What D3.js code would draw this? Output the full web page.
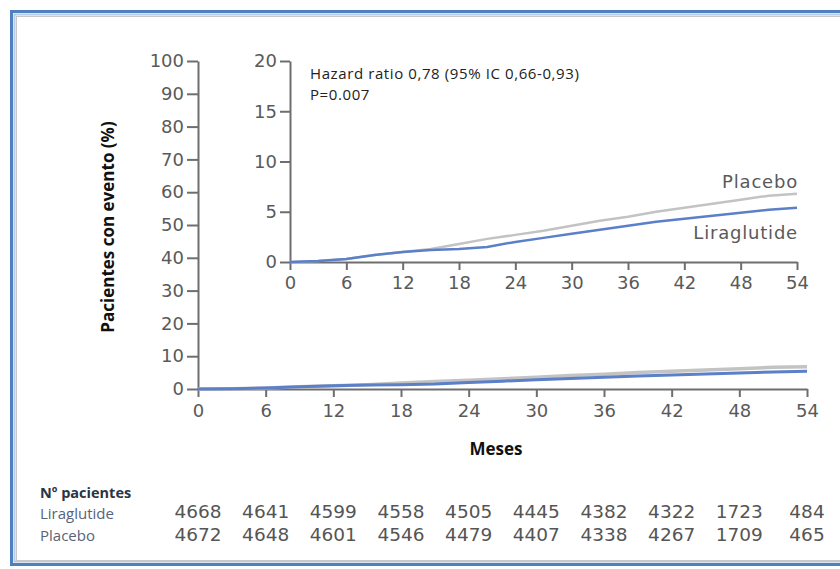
<!DOCTYPE html>
<html lang="es">
<head>
<meta charset="utf-8"/>
<script src="https://d3js.org/d3.v7.min.js"></script>
<style>
  body { margin: 0; background: #fff; }
  svg { display: block; }
</style>
</head>
<body>
<svg id="chart" width="840" height="569"></svg>
<script>
// meses y curvas acumuladas (%)
const months      = [0, 3, 6, 9, 12, 15, 18, 21, 24, 27, 30, 33, 36, 39, 42, 45, 48, 51, 54];
const liraglutide = [0, 0.1, 0.3, 0.7, 1.0, 1.2, 1.3, 1.5, 2.0, 2.4, 2.8, 3.2, 3.6, 4.0, 4.3, 4.6, 4.9, 5.2, 5.4];
const placebo     = [0, 0.1, 0.3, 0.7, 1.0, 1.3, 1.8, 2.3, 2.7, 3.1, 3.6, 4.1, 4.5, 5.0, 5.4, 5.8, 6.2, 6.6, 6.8];

const xTicks = [0, 6, 12, 18, 24, 30, 36, 42, 48, 54];
const mainYTicks = [0, 10, 20, 30, 40, 50, 60, 70, 80, 90, 100];
const insetYTicks = [0, 5, 10, 15, 20];

const riskLira = [4668, 4641, 4599, 4558, 4505, 4445, 4382, 4322, 1723, 484];
const riskPlac = [4672, 4648, 4601, 4546, 4479, 4407, 4338, 4267, 1709, 465];

const svg = d3.select("#chart");

// marco
svg.append("rect").attr("x", 11.5).attr("y", 11.5).attr("width", 840).attr("height", 553)
  .attr("fill", "none").attr("stroke", "#4f81bd").attr("stroke-width", 3);
svg.append("rect").attr("x", 14.5).attr("y", 14.5).attr("width", 834).attr("height", 547)
  .attr("fill", "none").attr("stroke", "#b4cce8").attr("stroke-width", 2);
svg.append("rect").attr("x", 16.5).attr("y", 16.5).attr("width", 830).attr("height", 544)
  .attr("fill", "none").attr("stroke", "#c8c8c8").attr("stroke-width", 1);

const tickFont = "DejaVu Sans, sans-serif";
const labelFont = "'Open Sans', sans-serif";

// grafico principal
const x = d3.scaleLinear().domain([0, 54]).range([198, 807]);
const y = d3.scaleLinear().domain([0, 100]).range([389, 61]);

// grafico interior
const xi = d3.scaleLinear().domain([0, 54]).range([290, 797]);
const yi = d3.scaleLinear().domain([0, 20]).range([262, 61]);

function styleAxis(g) {
  g.select(".domain").attr("stroke", "#6e6e6e").attr("stroke-width", 2);
  g.selectAll(".tick line").attr("stroke", "#6e6e6e").attr("stroke-width", 2);
  g.selectAll(".tick text").attr("fill", "#5a5a5a")
    .style("font-family", tickFont).style("font-size", "18px");
}

svg.append("g").attr("transform", "translate(198,0)")
  .call(d3.axisLeft(y).tickValues(mainYTicks).tickSize(11).tickPadding(3).tickSizeOuter(0))
  .call(styleAxis);
svg.append("g").attr("transform", "translate(0,389)")
  .call(d3.axisBottom(x).tickValues(xTicks).tickSize(8).tickPadding(7).tickSizeOuter(0))
  .call(styleAxis);

svg.append("g").attr("transform", "translate(290,0)")
  .call(d3.axisLeft(yi).tickValues(insetYTicks).tickSize(10).tickPadding(3).tickSizeOuter(0))
  .call(styleAxis);
svg.append("g").attr("transform", "translate(0,262)")
  .call(d3.axisBottom(xi).tickValues(xTicks).tickSize(8).tickPadding(6).tickSizeOuter(0))
  .call(styleAxis);

const blue = "#5b7fc8";
const grey = "#c3c3c3";

const mainLine = (vals) => d3.line().x((d, i) => x(months[i])).y(d => y(d))(vals);
const insetLine = (vals) => d3.line().x((d, i) => xi(months[i])).y(d => yi(d))(vals);

svg.append("path").attr("d", mainLine(placebo)).attr("fill", "none")
  .attr("stroke", grey).attr("stroke-width", 3.5);
svg.append("path").attr("d", mainLine(liraglutide)).attr("fill", "none")
  .attr("stroke", blue).attr("stroke-width", 3);

svg.append("path").attr("d", insetLine(placebo)).attr("fill", "none")
  .attr("stroke", grey).attr("stroke-width", 2.5);
svg.append("path").attr("d", insetLine(liraglutide)).attr("fill", "none")
  .attr("stroke", blue).attr("stroke-width", 2.5);

// textos
svg.append("text").attr("x", 310).attr("y", 79)
  .style("font-family", labelFont).style("font-size", "15px").style("letter-spacing", "0.6px")
  .attr("fill", "#222").text("Hazard ratio 0,78 (95% IC 0,66-0,93)");
svg.append("text").attr("x", 310).attr("y", 100)
  .style("font-family", labelFont).style("font-size", "15px").style("letter-spacing", "0.6px")
  .attr("fill", "#222").text("P=0.007");

svg.append("text").attr("x", 798).attr("y", 188).attr("text-anchor", "end")
  .style("font-family", tickFont).style("font-size", "18px").style("letter-spacing", "0.8px")
  .attr("fill", "#5a5a5a").text("Placebo");
svg.append("text").attr("x", 798).attr("y", 239).attr("text-anchor", "end")
  .style("font-family", tickFont).style("font-size", "18px").style("letter-spacing", "0.8px")
  .attr("fill", "#5a5a5a").text("Liraglutide");

svg.append("text").attr("x", 496).attr("y", 455).attr("text-anchor", "middle")
  .style("font-family", labelFont).style("font-size", "17px").style("font-weight", "700")
  .attr("fill", "#111").text("Meses");

svg.append("text").attr("transform", "translate(114,227) rotate(-90)").attr("text-anchor", "middle")
  .style("font-family", labelFont).style("font-size", "17px").style("font-weight", "700")
  .attr("fill", "#111").text("Pacientes con evento (%)");

// tabla de pacientes en riesgo
svg.append("text").attr("x", 40).attr("y", 498)
  .style("font-family", labelFont).style("font-size", "14.5px").style("font-weight", "700")
  .attr("fill", "#2b3445").text("Nº pacientes");
svg.append("text").attr("x", 40).attr("y", 519)
  .style("font-family", labelFont).style("font-size", "15px")
  .attr("fill", "#56647a").text("Liraglutide");
svg.append("text").attr("x", 40).attr("y", 541)
  .style("font-family", labelFont).style("font-size", "15px")
  .attr("fill", "#56647a").text("Placebo");

svg.selectAll(".riskLira").data(riskLira).enter().append("text")
  .attr("x", (d, i) => x(xTicks[i])).attr("y", 518).attr("text-anchor", "middle")
  .style("font-family", tickFont).style("font-size", "18.5px")
  .attr("fill", "#555").text(d => d);
svg.selectAll(".riskPlac").data(riskPlac).enter().append("text")
  .attr("x", (d, i) => x(xTicks[i])).attr("y", 541).attr("text-anchor", "middle")
  .style("font-family", tickFont).style("font-size", "18.5px")
  .attr("fill", "#555").text(d => d);
</script>
</body>
</html>
